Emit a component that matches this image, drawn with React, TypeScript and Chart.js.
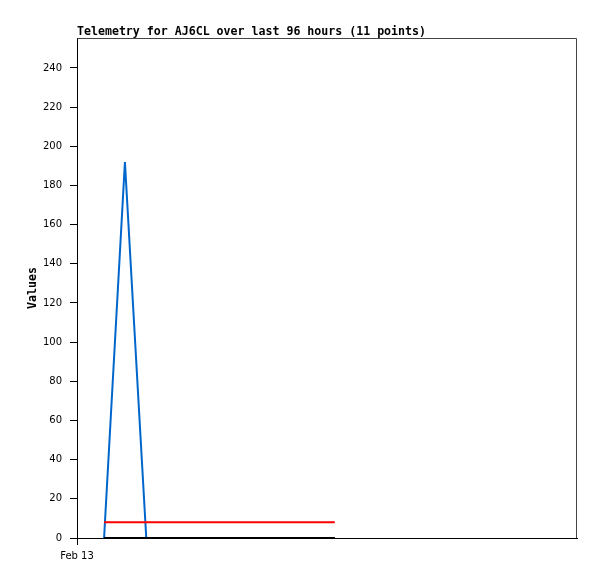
import React, { useEffect, useRef } from "react";
import { Chart, registerables } from "chart.js";

Chart.register(...registerables);

const TITLE = "Telemetry for AJ6CL over last 96 hours (11 points)";
const Y_LABEL = "Values";
const X_TICK_LABEL = "Feb 13";
// hours since start of the 96-hour window
const hours = [5.2, 9.2, 13.3, 17.9, 22.4, 27.0, 31.5, 36.0, 40.5, 45.0, 49.5];
const seriesBlue = [0, 192, 0, 0, 0, 0, 0, 0, 0, 0, 0];
const seriesRed = [8, 8, 8, 8, 8, 8, 8, 8, 8, 8, 8];
const seriesBlack = [0, 0, 0, 0, 0, 0, 0, 0, 0, 0, 0];
const yTicks = [0, 20, 40, 60, 80, 100, 120, 140, 160, 180, 200, 220, 240];

export default function App() {
  const ref = useRef<HTMLCanvasElement | null>(null);
  useEffect(() => {
    if (!ref.current) return;
    const pts = (vals: number[]) => vals.map((v, i) => ({ x: hours[i], y: v }));
    const framePlugin = {
      id: "frame",
      beforeDatasetsDraw(chart: any) {
        const { ctx, chartArea: a } = chart;
        ctx.save();
        ctx.strokeStyle = "#444444";
        ctx.lineWidth = 1;
        ctx.beginPath();
        ctx.moveTo(a.left + 0.5, a.top + 0.5);
        ctx.lineTo(a.right - 0.5, a.top + 0.5);
        ctx.lineTo(a.right - 0.5, a.bottom);
        ctx.stroke();
        ctx.restore();
      },
      afterDraw(chart: any) {
        const { ctx, chartArea: a } = chart;
        ctx.save();
        ctx.fillStyle = "#000";
        ctx.font = "bold 11.6px 'DejaVu Sans Mono'";
        ctx.textBaseline = "alphabetic";
        ctx.textAlign = "left";
        ctx.fillText(TITLE, a.left, 35);
        ctx.translate(36, (a.top + a.bottom) / 2);
        ctx.rotate(-Math.PI / 2);
        ctx.textAlign = "center";
        ctx.fillText(Y_LABEL, 0, 0);
        ctx.restore();
      },
    };
    const chart = new Chart(ref.current, {
      type: "line",
      data: {
        datasets: [
          { data: pts(seriesBlue), borderColor: "#0066cc", borderWidth: 2, order: 3 },
          { data: pts(seriesRed), borderColor: "#ff0000", borderWidth: 2, order: 2 },
          { data: pts(seriesBlack), borderColor: "#000000", borderWidth: 2, order: 1 },
        ].map((d) => ({
          ...d,
          pointRadius: 0,
          tension: 0,
          fill: false,
          borderJoinStyle: "bevel" as const,
        })),
      },
      plugins: [framePlugin],
      options: {
        responsive: false,
        animation: false,
        layout: { padding: { top: 38, right: 20, left: 0, bottom: 0 } },
        plugins: { legend: { display: false }, tooltip: { enabled: false }, title: { display: false } },
        scales: {
          x: {
            type: "linear",
            min: 0,
            max: 96,
            afterFit: (s: any) => {
              s.height = 41;
            },
            afterBuildTicks: (s: any) => {
              s.ticks = [{ value: 0 }];
            },
            grid: { drawOnChartArea: false, tickLength: 7, color: "#000" },
            border: { color: "#000", width: 1 },
            ticks: {
              padding: 5,
              color: "#000",
              font: { family: "'DejaVu Sans'", size: 10 },
              maxRotation: 0,
              callback: () => X_TICK_LABEL,
            },
          },
          y: {
            min: 0,
            max: 255.3,
            afterFit: (s: any) => {
              s.width = 77;
            },
            afterBuildTicks: (s: any) => {
              s.ticks = yTicks.map((v) => ({ value: v }));
            },
            grid: { drawOnChartArea: false, tickLength: 7, color: "#000" },
            border: { color: "#000", width: 1 },
            ticks: {
              padding: 8,
              color: "#000",
              font: { family: "'DejaVu Sans'", size: 10 },
            },
          },
        },
      },
    });
    return () => chart.destroy();
  }, []);
  return (
    <div style={{ position: "fixed", left: 0, top: 0, width: 597, height: 579, background: "#fff" }}>
      <canvas ref={ref} width={597} height={579} style={{ display: "block" }} />
    </div>
  );
}
